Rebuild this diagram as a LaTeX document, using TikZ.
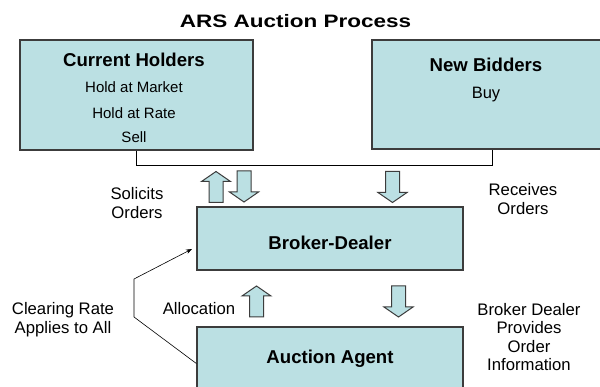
\documentclass[tikz,border=0pt]{standalone}
\usepackage{fontspec}
\setmainfont{Liberation Sans}
\usepackage{graphicx}
\usetikzlibrary{arrows.meta}
\definecolor{boxfill}{HTML}{BBE0E3}
\definecolor{boxline}{HTML}{3C3C3C}
\tikzset{
  box/.style={draw=boxline, line width=1.3pt, fill=boxfill, inner sep=0pt},
  headtxt/.style={font=\bfseries\fontsize{18.6}{20}\selectfont, inner sep=0pt},
  intxt/.style={font=\fontsize{15}{17}\selectfont, inner sep=0pt},
  lbl/.style={font=\fontsize{16.7}{18.5}\selectfont, align=center, inner sep=0pt},
  conn/.style={draw=black, line width=0.9pt},
  blockdown/.pic={
    \draw[draw=boxline, line width=1pt, fill=boxfill]
      (-7,-15.5) -- (7,-15.5) -- (7,5.5) -- (14.5,5.5) -- (0,15.5) -- (-14.5,5.5) -- (-7,5.5) -- cycle;
  },
  blockup/.pic={
    \draw[draw=boxline, line width=1pt, fill=boxfill]
      (-7,15.5) -- (7,15.5) -- (7,-5.5) -- (14.5,-5.5) -- (0,-15.5) -- (-14.5,-5.5) -- (-7,-5.5) -- cycle;
  }
}
\begin{document}
\begin{tikzpicture}[x=1pt, y=-1pt]
\useasboundingbox (0,0) rectangle (600,387);
\fill[white] (0,0) rectangle (600,387);

% title
\node[font=\bfseries\fontsize{18}{20}\selectfont, inner sep=0pt] (title) at (295.5,21.5)
  {\scalebox{1.25}[1]{ARS Auction Process}};

% boxes
\node[box, minimum width=233pt, minimum height=110pt] (ch) at (136.5,95) {};
\node[box, minimum width=240pt, minimum height=109pt] (nb) at (492,94.5) {};
\node[box, minimum width=266pt, minimum height=63pt] (bd) at (330,238.5) {};
\node[box, minimum width=266pt, minimum height=73pt] (aa) at (330,363.5) {};

% box texts
\node[headtxt] (chtitle) at (134,60) {Current Holders};
\node[intxt] (ch1) at (134,87) {Hold at Market};
\node[intxt] (ch2) at (134,113) {Hold at Rate};
\node[intxt] (ch3) at (134,137) {Sell};
\node[headtxt] (nbtitle) at (486,65) {New Bidders};
\node[intxt, font=\fontsize{16.5}{18}\selectfont] (nb1) at (486,95) {Buy};
\node[headtxt] (bdtitle) at (330,243) {Broker-Dealer};
\node[headtxt] (aatitle) at (330,358.5) {Auction Agent};

% connector between top boxes
\coordinate (join) at (0,165);
\draw[conn] (ch.south) -- (ch.south |- join) -- (nb.south |- join) -- (nb.south);

% block arrows
\pic (a1) at (216,187) {blockup};
\pic (a2) at (244,186.5) {blockdown};
\pic (a3) at (392.5,187) {blockdown};
\pic (a4) at (256.5,301.5) {blockup};
\pic (a5) at (398.5,301.5) {blockdown};

% side labels
\node[lbl] (sol) at (137,203) {Solicits\\Orders};
\node[lbl] (rec) at (523,199) {Receives\\Orders};
\node[lbl] (clr) at (63,319.5) {Clearing Rate\\Applies to All};
\node[lbl] (alloc) at (199,309) {Allocation};
\node[lbl] (bdinfo) at (529,337) {Broker Dealer\\Provides\\Order\\Information};

% clearing rate connector
\coordinate (cr1) at (134,317);
\coordinate (cr2) at (134,279);
\coordinate (cr3) at (192,249);
\draw[draw=black, line width=0.6pt, -{Stealth[length=6pt,width=4.5pt]}]
  (aa.west) -- (cr1) -- (cr2) -- (cr3);
\end{tikzpicture}
\end{document}
